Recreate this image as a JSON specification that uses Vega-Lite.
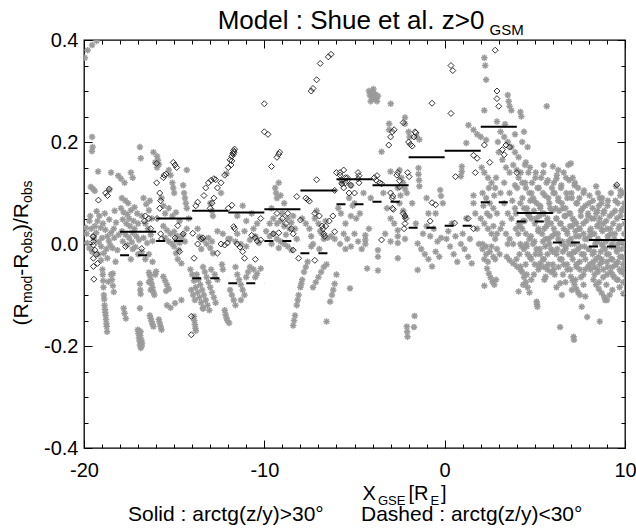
{
  "$schema": "https://vega.github.io/schema/vega-lite/v6.json",
  "width": 541,
  "height": 408,
  "autosize": "none",
  "padding": {"left": 84, "top": 40, "right": 11, "bottom": 81},
  "background": "white",
  "title": {"text": "Model : Shue et al. z>0", "fontSize": 26, "font": "Liberation Sans", "fontWeight": "normal", "color": "black", "anchor": "middle", "frame": "group", "dx": -3.5, "dy": 37, "offset": 4, "baseline": "alphabetic"},
  "config": {
    "view": {"stroke": "black", "strokeWidth": 1.3},
    "axis": {"grid": false, "domain": false, "tickColor": "black", "tickWidth": 1, "labelColor": "black", "labelFont": "Liberation Sans", "labelFontSize": 20, "titleFont": "Liberation Sans", "titleColor": "black", "titleFontWeight": "normal", "titleFontSize": 20, "labelFlush": false, "labelOverlap": false, "labelBound": false, "titleAlign": "left", "titleBaseline": "alphabetic"},
    "legend": {"labelFont": "Liberation Sans", "labelColor": "black"}
  },
  "datasets": {
    "ast": [
      {"x":-19.95,"y":0.365},{"x":-19.8,"y":0.38},{"x":-19.55,"y":0.39},{"x":-19.3,"y":0.398},
      {"x":-19.55,"y":0.21},{"x":-19.52,"y":0.19},{"x":-19.56,"y":0.182},{"x":-19.22,"y":0.142},{"x":-19.62,"y":0.112},{"x":-19.5,"y":0.108},{"x":-19.4,"y":0.104},{"x":-19.65,"y":0.055},{"x":-19.3,"y":0.064},{"x":-19.08,"y":0.032},
      {"x":-19.85,"y":0.02},{"x":-19.7,"y":-0.008},{"x":-19.32,"y":0.022},{"x":-19.18,"y":0.004},{"x":-19.0,"y":0.012},{"x":-18.82,"y":0.028},{"x":-18.9,"y":-0.018},{"x":-18.62,"y":0.006},{"x":-18.5,"y":0.022},{"x":-18.32,"y":0.012},{"x":-18.42,"y":-0.008},{"x":-18.22,"y":0.042},{"x":-18.08,"y":0.018},{"x":-19.9,"y":0.032},{"x":-19.82,"y":0.002},{"x":-19.6,"y":0.03},{"x":-19.45,"y":0.01},{"x":-19.05,"y":-0.005},{"x":-18.7,"y":0.015},{"x":-18.55,"y":-0.002},{"x":-18.95,"y":0.04},{"x":-19.25,"y":0.045},{"x":-18.35,"y":0.03},
      {"x":-19.7,"y":0.045},{"x":-19.4,"y":0.035},{"x":-19.15,"y":0.055},{"x":-18.85,"y":0.06},{"x":-18.6,"y":0.048},{"x":-18.3,"y":0.065},{"x":-19.55,"y":-0.015},{"x":-18.75,"y":-0.01},
      {"x":-18.6,"y":0.106},{"x":-18.5,"y":0.14},{"x":-18.1,"y":0.134},{"x":-17.95,"y":0.128},{"x":-17.75,"y":0.12},
      {"x":-18.98,"y":-0.05},{"x":-18.96,"y":-0.06},{"x":-18.94,"y":-0.072},{"x":-18.92,"y":-0.085},{"x":-18.9,"y":-0.1},{"x":-18.88,"y":-0.108},{"x":-18.86,"y":-0.12},{"x":-18.84,"y":-0.128},{"x":-18.82,"y":-0.134},{"x":-18.8,"y":-0.14},{"x":-18.78,"y":-0.148},{"x":-18.76,"y":-0.156},{"x":-18.74,"y":-0.162},{"x":-18.72,"y":-0.172},
      {"x":-18.5,"y":-0.06},{"x":-18.45,"y":-0.07},{"x":-18.4,"y":-0.082},{"x":-18.35,"y":-0.094},{"x":-18.65,"y":-0.074},{"x":-18.4,"y":-0.058},
      {"x":-17.8,"y":-0.126},{"x":-17.75,"y":-0.136},{"x":-17.68,"y":-0.146},
      {"x":-19.2,"y":-0.02},{"x":-19.05,"y":-0.032},{"x":-18.7,"y":-0.028},{"x":-18.25,"y":-0.035},{"x":-18.15,"y":-0.012},
      {"x":-17.9,"y":0.09},{"x":-17.7,"y":0.085},{"x":-17.55,"y":0.08},{"x":-17.95,"y":0.07},{"x":-17.8,"y":0.062},{"x":-17.6,"y":0.058},{"x":-17.4,"y":0.066},{"x":-17.2,"y":0.072},{"x":-17.05,"y":0.06},{"x":-17.85,"y":0.048},{"x":-17.65,"y":0.04},{"x":-17.45,"y":0.035},{"x":-17.25,"y":0.045},{"x":-17.0,"y":0.04},{"x":-17.9,"y":0.025},{"x":-17.7,"y":0.018},{"x":-17.5,"y":0.012},{"x":-17.3,"y":0.022},{"x":-17.1,"y":0.015},{"x":-17.85,"y":0.005},{"x":-17.6,"y":-0.002},{"x":-17.35,"y":0.004},{"x":-17.15,"y":-0.006},{"x":-16.95,"y":0.008},{"x":-17.5,"y":0.05},{"x":-17.2,"y":0.03},
      {"x":-16.9,"y":0.19},{"x":-16.85,"y":0.168},{"x":-17.4,"y":0.14},{"x":-17.3,"y":0.13},
      {"x":-16.7,"y":0.09},{"x":-16.55,"y":0.078},{"x":-16.4,"y":0.066},{"x":-16.25,"y":0.05},{"x":-16.6,"y":0.04},{"x":-16.45,"y":0.03},{"x":-16.3,"y":0.018},{"x":-16.7,"y":0.012},{"x":-16.5,"y":0.002},{"x":-16.2,"y":0.006},{"x":-16.8,"y":0.055},{"x":-16.35,"y":0.085},
      {"x":-16.15,"y":0.18},{"x":-15.95,"y":0.172},{"x":-15.9,"y":0.164},{"x":-15.85,"y":0.156},{"x":-15.95,"y":0.15},{"x":-16.05,"y":0.16},
      {"x":-17.3,"y":-0.01},{"x":-17.0,"y":-0.02},{"x":-16.8,"y":-0.015},{"x":-16.6,"y":-0.03},{"x":-16.4,"y":-0.02},{"x":-16.2,"y":-0.035},{"x":-17.4,"y":-0.03},
      {"x":-17.02,"y":-0.168},{"x":-16.98,"y":-0.176},{"x":-16.95,"y":-0.184},{"x":-16.92,"y":-0.19},{"x":-16.9,"y":-0.198},{"x":-16.85,"y":-0.204},{"x":-16.8,"y":-0.2},{"x":-16.88,"y":-0.18},{"x":-16.82,"y":-0.188},{"x":-16.78,"y":-0.194},{"x":-16.95,"y":-0.17},{"x":-16.86,"y":-0.172},
      {"x":-16.9,"y":-0.126},{"x":-16.9,"y":-0.078},{"x":-16.88,"y":-0.09},{"x":-16.86,"y":-0.098},
      {"x":-16.4,"y":-0.056},{"x":-16.35,"y":-0.062},{"x":-16.3,"y":-0.07},{"x":-16.25,"y":-0.078},{"x":-16.2,"y":-0.086},{"x":-16.15,"y":-0.094},{"x":-16.1,"y":-0.1},{"x":-16.05,"y":-0.06},{"x":-16.0,"y":-0.054},{"x":-16.3,"y":-0.09},{"x":-16.4,"y":-0.075},
      {"x":-16.35,"y":-0.14},{"x":-16.3,"y":-0.146},{"x":-16.25,"y":-0.152},{"x":-16.2,"y":-0.158},{"x":-15.85,"y":-0.148},{"x":-15.8,"y":-0.155},{"x":-15.75,"y":-0.162},{"x":-15.7,"y":-0.168},{"x":-16.15,"y":-0.162},
      {"x":-15.6,"y":-0.064},{"x":-15.5,"y":-0.072},{"x":-15.4,"y":-0.08},{"x":-15.3,"y":-0.088},{"x":-15.45,"y":-0.092},{"x":-15.4,"y":-0.12},{"x":-14.95,"y":-0.116},{"x":-14.6,"y":-0.11},{"x":-15.2,"y":-0.125},
      {"x":-15.0,"y":-0.005},{"x":-14.9,"y":-0.018},{"x":-14.8,"y":-0.03},{"x":-14.6,"y":-0.038},{"x":-14.75,"y":-0.012},
      {"x":-15.4,"y":0.027},{"x":-15.2,"y":0.02},{"x":-15.0,"y":0.024},{"x":-14.8,"y":0.015},{"x":-14.6,"y":0.01},{"x":-15.3,"y":0.005},{"x":-15.1,"y":0.0},{"x":-14.9,"y":0.008},{"x":-14.7,"y":0.002},{"x":-14.5,"y":0.018},{"x":-15.5,"y":0.012},{"x":-14.4,"y":0.005},{"x":-15.6,"y":0.035},{"x":-14.3,"y":0.03},
      {"x":-15.3,"y":0.145},{"x":-15.2,"y":0.135},{"x":-15.1,"y":0.12},{"x":-15.05,"y":0.11},{"x":-15.0,"y":0.1},{"x":-14.5,"y":0.115},{"x":-14.45,"y":0.1},{"x":-14.4,"y":0.09},{"x":-14.35,"y":0.08},{"x":-14.3,"y":0.07},{"x":-14.3,"y":0.145},{"x":-15.5,"y":0.06},{"x":-15.3,"y":0.07},{"x":-15.1,"y":0.055},{"x":-14.9,"y":0.062},{"x":-14.7,"y":0.045},{"x":-14.2,"y":0.05},{"x":-15.7,"y":0.09},{"x":-15.6,"y":0.075},
      {"x":-13.7,"y":0.03},
      {"x":-14.1,"y":-0.05},{"x":-14.0,"y":-0.06},{"x":-13.9,"y":-0.072},{"x":-13.8,"y":-0.085},{"x":-13.7,"y":-0.095},{"x":-13.6,"y":-0.105},{"x":-13.5,"y":-0.115},{"x":-13.4,"y":-0.125},{"x":-14.05,"y":-0.09},{"x":-13.95,"y":-0.1},{"x":-13.85,"y":-0.11},{"x":-13.75,"y":-0.06},{"x":-13.65,"y":-0.07},{"x":-13.55,"y":-0.08},{"x":-13.45,"y":-0.09},{"x":-13.35,"y":-0.1},{"x":-13.25,"y":-0.11},{"x":-13.15,"y":-0.12},{"x":-13.05,"y":-0.13},{"x":-13.3,"y":-0.055},{"x":-13.2,"y":-0.065},{"x":-13.1,"y":-0.075},{"x":-13.0,"y":-0.085},{"x":-12.9,"y":-0.095},{"x":-12.8,"y":-0.105},{"x":-12.7,"y":-0.115},{"x":-12.95,"y":-0.05},{"x":-12.75,"y":-0.06},{"x":-12.6,"y":-0.07},{"x":-13.4,"y":-0.045},
      {"x":-13.9,"y":-0.142},{"x":-13.88,"y":-0.15},{"x":-13.85,"y":-0.158},{"x":-13.82,"y":-0.165},{"x":-13.8,"y":-0.17},
      {"x":-13.6,"y":0.014},{"x":-13.4,"y":0.008},{"x":-13.2,"y":0.0},{"x":-13.0,"y":-0.008},{"x":-12.85,"y":-0.018},{"x":-13.5,"y":-0.01},{"x":-13.1,"y":0.012},{"x":-12.9,"y":0.005},
      {"x":-13.4,"y":-0.127},
      {"x":-12.1,"y":0.138},{"x":-12.4,"y":0.1},{"x":-13.0,"y":0.08},{"x":-12.9,"y":0.065},{"x":-12.85,"y":0.055},
      {"x":-12.3,"y":0.02},{"x":-12.0,"y":0.01},{"x":-12.6,"y":0.025},
      {"x":-12.35,"y":-0.04},{"x":-12.3,"y":-0.05},{"x":-11.9,"y":-0.09},{"x":-11.8,"y":-0.1},{"x":-11.7,"y":-0.11},{"x":-11.6,"y":-0.12},{"x":-12.2,"y":-0.13},{"x":-12.15,"y":-0.138},{"x":-12.1,"y":-0.145},{"x":-12.05,"y":-0.15},{"x":-11.95,"y":-0.155},{"x":-11.5,"y":-0.06},{"x":-11.4,"y":-0.07},{"x":-11.3,"y":-0.08},{"x":-11.2,"y":-0.09},{"x":-11.1,"y":-0.1},{"x":-11.0,"y":-0.065},{"x":-10.9,"y":-0.055},{"x":-10.8,"y":-0.045},{"x":-10.6,"y":-0.05},{"x":-10.4,"y":-0.058},{"x":-10.2,"y":-0.048},{"x":-10.5,"y":-0.065},{"x":-11.6,"y":-0.045},{"x":-11.3,"y":-0.11},
      {"x":-11.9,"y":0.01},{"x":-11.6,"y":0.005},{"x":-11.3,"y":0.0},{"x":-11.0,"y":-0.005},{"x":-10.8,"y":0.008},{"x":-10.5,"y":0.015},{"x":-10.3,"y":0.002},{"x":-11.5,"y":0.02},{"x":-11.1,"y":0.025},{"x":-10.6,"y":0.03},
      {"x":-11.5,"y":0.055},{"x":-11.0,"y":0.045},{"x":-10.7,"y":0.06},{"x":-10.4,"y":0.04},{"x":-11.2,"y":0.075},
      {"x":-9.9,"y":0.025},{"x":-9.7,"y":0.015},{"x":-9.5,"y":0.02},{"x":-9.3,"y":0.01},{"x":-9.1,"y":0.005},{"x":-8.9,"y":0.0},{"x":-8.7,"y":-0.005},{"x":-8.5,"y":-0.012},{"x":-9.6,"y":0.0},{"x":-9.2,"y":-0.008},{"x":-8.8,"y":0.018},{"x":-8.6,"y":0.03},
      {"x":-9.5,"y":0.05},{"x":-9.3,"y":0.04},{"x":-9.1,"y":0.045},{"x":-8.9,"y":0.035},{"x":-8.7,"y":0.05},{"x":-8.5,"y":0.042},{"x":-8.3,"y":0.03},{"x":-8.2,"y":0.01},{"x":-9.7,"y":0.04},{"x":-9.0,"y":0.06},{"x":-8.4,"y":0.055},
      {"x":-9.4,"y":0.11},{"x":-9.3,"y":0.09},{"x":-9.35,"y":0.1},{"x":-9.1,"y":0.095},{"x":-9.2,"y":0.12},{"x":-8.9,"y":0.08},{"x":-9.6,"y":0.07},
      {"x":-8.4,"y":-0.16},{"x":-8.3,"y":-0.14},{"x":-8.2,"y":-0.12},{"x":-8.1,"y":-0.1},{"x":-8.0,"y":-0.085},{"x":-7.9,"y":-0.07},{"x":-7.8,"y":-0.055},{"x":-7.7,"y":-0.045},{"x":-7.6,"y":-0.035},{"x":-8.35,"y":-0.15},{"x":-8.15,"y":-0.11},{"x":-7.95,"y":-0.078},
      {"x":-7.4,"y":-0.005},
      {"x":-7.9,"y":0.05},{"x":-7.7,"y":0.04},{"x":-7.5,"y":0.03},{"x":-7.4,"y":0.015},{"x":-7.2,"y":0.05},{"x":-7.0,"y":0.04},{"x":-6.9,"y":0.025},{"x":-6.7,"y":0.01},{"x":-6.8,"y":0.02},{"x":-6.5,"y":0.012},{"x":-6.3,"y":0.015},{"x":-6.1,"y":0.01},{"x":-7.1,"y":0.065},{"x":-6.6,"y":0.045},{"x":-7.3,"y":0.0},{"x":-6.95,"y":-0.01},
      {"x":-7.3,"y":-0.085},{"x":-7.15,"y":-0.075},{"x":-7.0,"y":-0.065},{"x":-6.85,"y":-0.055},{"x":-6.7,"y":-0.045},{"x":-6.55,"y":-0.04},
      {"x":-6.55,"y":-0.152},
      {"x":-6.35,"y":-0.113},{"x":-6.25,"y":-0.1},{"x":-6.18,"y":-0.09},{"x":-6.1,"y":-0.078},{"x":-6.0,"y":-0.06},
      {"x":-5.25,"y":-0.087},
      {"x":-5.9,"y":0.07},{"x":-5.75,"y":0.06},{"x":-5.3,"y":0.09},{"x":-5.1,"y":0.075},{"x":-5.0,"y":0.08},{"x":-5.2,"y":0.055},{"x":-4.9,"y":0.05},{"x":-4.7,"y":0.06},{"x":-5.5,"y":0.04},{"x":-5.6,"y":0.02},{"x":-5.4,"y":0.01},{"x":-5.0,"y":0.02},{"x":-4.8,"y":0.005},{"x":-4.4,"y":0.017},{"x":-4.4,"y":0.008},{"x":-4.4,"y":0.0},{"x":-4.2,"y":0.03},{"x":-5.8,"y":0.0},{"x":-5.5,"y":-0.01},{"x":-5.2,"y":-0.005},{"x":-4.6,"y":-0.01},
      {"x":-3.7,"y":-0.012},{"x":-3.7,"y":-0.025},{"x":-4.3,"y":-0.048},{"x":-3.7,"y":-0.052},
      {"x":-5.7,"y":0.12},{"x":-5.2,"y":0.115},{"x":-4.5,"y":0.1},{"x":-4.1,"y":0.09},
      {"x":-4.2,"y":0.3},{"x":-4.15,"y":0.292},{"x":-4.1,"y":0.296},{"x":-4.05,"y":0.288},{"x":-4.0,"y":0.3},{"x":-3.95,"y":0.29},{"x":-3.9,"y":0.284},{"x":-3.85,"y":0.294},{"x":-3.8,"y":0.286},{"x":-3.75,"y":0.28},{"x":-3.7,"y":0.29},{"x":-4.1,"y":0.28},{"x":-3.95,"y":0.304},
      {"x":-2.99,"y":0.275},{"x":-3.08,"y":0.236},{"x":-3.08,"y":0.224},{"x":-2.2,"y":0.248},{"x":-2.2,"y":0.236},{"x":-2.0,"y":0.22},{"x":-1.95,"y":0.21},{"x":-1.55,"y":0.21},{"x":-1.4,"y":0.205},
      {"x":-3.5,"y":0.181},{"x":-3.0,"y":0.142},{"x":-2.5,"y":0.145},{"x":-2.4,"y":0.13},{"x":-2.3,"y":0.12},{"x":-2.2,"y":0.108},{"x":-2.1,"y":0.1},{"x":-2.45,"y":0.095},
      {"x":-3.4,"y":0.1},{"x":-2.6,"y":0.11},{"x":-2.5,"y":0.08},{"x":-2.3,"y":0.065},{"x":-2.2,"y":0.053},{"x":-3.2,"y":0.07},{"x":-3.0,"y":0.05},{"x":-2.8,"y":0.04},
      {"x":-2.6,"y":0.027},{"x":-2.6,"y":0.015},{"x":-2.6,"y":0.002},{"x":-2.6,"y":-0.028},{"x":-3.3,"y":0.02},{"x":-3.0,"y":0.005},{"x":-2.2,"y":0.01},
      {"x":-2.1,"y":-0.162},{"x":-2.08,"y":-0.172},{"x":-2.06,"y":-0.182},{"x":-1.67,"y":-0.141},{"x":-1.7,"y":-0.163},
      {"x":-1.45,"y":0.149},{"x":-1.45,"y":0.137},{"x":-1.42,"y":0.125},{"x":-1.4,"y":0.113},
      {"x":-0.25,"y":0.106},{"x":-0.2,"y":0.094},{"x":-0.1,"y":0.08},{"x":-0.5,"y":0.06},
      {"x":-1.5,"y":-0.051},{"x":-1.5,"y":0.001},{"x":-1.3,"y":-0.01},{"x":-1.1,"y":-0.02},{"x":-0.9,"y":-0.03},{"x":-0.7,"y":-0.044},{"x":-0.5,"y":-0.015},{"x":-0.3,"y":-0.025},{"x":-1.2,"y":0.02},{"x":-0.8,"y":0.015},{"x":-0.4,"y":0.005},{"x":-1.0,"y":0.035},{"x":-0.6,"y":0.03},{"x":-0.2,"y":0.012},{"x":-1.6,"y":0.04},{"x":-0.9,"y":0.06},
      {"x":-1.8,"y":0.08},{"x":-1.0,"y":0.09},
      {"x":0.95,"y":0.152},{"x":0.95,"y":0.142},{"x":0.9,"y":0.133},{"x":1.2,"y":0.198},{"x":1.32,"y":0.233},
      {"x":0.1,"y":0.01},{"x":0.3,"y":-0.005},{"x":0.5,"y":-0.02},{"x":0.7,"y":-0.035},{"x":0.9,"y":0.0},{"x":1.1,"y":-0.01},{"x":1.3,"y":-0.025},{"x":1.5,"y":-0.038},{"x":0.2,"y":0.025},{"x":0.6,"y":0.015},{"x":1.0,"y":0.02},{"x":1.4,"y":0.01},{"x":1.6,"y":0.095},{"x":1.6,"y":0.08},{"x":1.7,"y":0.06},{"x":1.2,"y":0.05},{"x":0.4,"y":0.04},{"x":1.8,"y":0.03},{"x":1.9,"y":0.0},
      {"x":1.6,"y":0.224},{"x":1.8,"y":0.215},{"x":2.0,"y":0.21},{"x":2.3,"y":0.204},
      {"x":2.2,"y":0.365},{"x":2.25,"y":0.35},{"x":2.3,"y":0.322},{"x":2.2,"y":0.262},
      {"x":3.5,"y":0.292},{"x":3.55,"y":0.28},{"x":3.6,"y":0.27},{"x":3.7,"y":0.262},{"x":4.2,"y":0.259},{"x":4.25,"y":0.25},
      {"x":2.9,"y":0.24},{"x":3.1,"y":0.22},{"x":3.3,"y":0.21},{"x":3.5,"y":0.2},{"x":3.7,"y":0.19},{"x":3.9,"y":0.18},{"x":4.1,"y":0.17},{"x":4.3,"y":0.2},{"x":4.5,"y":0.16},{"x":3.0,"y":0.18},{"x":3.2,"y":0.165},{"x":3.4,"y":0.15},{"x":3.6,"y":0.14},{"x":3.8,"y":0.155},{"x":4.0,"y":0.145},{"x":4.4,"y":0.22},{"x":2.95,"y":0.2},{"x":3.35,"y":0.235},{"x":4.6,"y":0.19},{"x":3.9,"y":0.215},
      {"x":2.05,"y":0.15},{"x":2.2,"y":0.14},{"x":2.4,"y":0.13},{"x":2.6,"y":0.12},{"x":2.8,"y":0.11},{"x":2.1,"y":0.1},{"x":2.3,"y":0.09},{"x":2.5,"y":0.08},{"x":2.7,"y":0.07},{"x":2.9,"y":0.06},{"x":2.0,"y":0.05},{"x":2.2,"y":0.04},{"x":2.4,"y":0.03},{"x":2.6,"y":0.02},{"x":2.8,"y":0.01},{"x":2.1,"y":0.0},{"x":2.3,"y":-0.005},{"x":2.5,"y":0.055},{"x":2.7,"y":0.035},{"x":2.9,"y":0.02},{"x":2.15,"y":0.075},{"x":2.45,"y":0.11},{"x":2.75,"y":0.095},{"x":2.35,"y":0.06},{"x":2.85,"y":0.13},
      {"x":2.1,"y":-0.01},{"x":2.3,"y":-0.02},{"x":2.5,"y":-0.015},{"x":2.7,"y":-0.025},{"x":2.9,"y":-0.01},{"x":3.05,"y":-0.02},{"x":2.2,"y":-0.03},{"x":2.6,"y":-0.005},{"x":2.4,"y":-0.035},{"x":2.8,"y":-0.03},
      {"x":2.35,"y":-0.048},{"x":2.45,"y":-0.058},{"x":2.55,"y":-0.066},{"x":2.65,"y":-0.074},{"x":2.75,"y":-0.08},{"x":2.85,"y":-0.07},{"x":2.2,"y":-0.082},
      {"x":3.44,"y":-0.025},{"x":3.6,"y":-0.032},{"x":3.8,"y":-0.038},{"x":4.0,"y":-0.044},{"x":4.1,"y":-0.093},
      {"x":3.1,"y":0.1},{"x":3.3,"y":0.08},{"x":3.5,"y":0.06},{"x":3.7,"y":0.05},{"x":3.9,"y":0.07},{"x":3.2,"y":0.04},{"x":3.4,"y":0.02},{"x":3.6,"y":0.01},{"x":3.8,"y":0.0},{"x":3.3,"y":0.12},{"x":3.6,"y":0.1},{"x":3.9,"y":0.115},{"x":3.1,"y":0.03},{"x":3.5,"y":0.0},{"x":3.75,"y":0.085},{"x":3.95,"y":0.03},
      {"x":4.2,"y":-0.044},{"x":4.3,"y":-0.055},{"x":4.4,"y":-0.065},{"x":4.5,"y":-0.075},{"x":4.6,"y":-0.085},{"x":4.7,"y":-0.095},{"x":4.35,"y":-0.08},{"x":4.55,"y":-0.06},
      {"x":5.1,"y":-0.113},{"x":5.12,"y":-0.118},{"x":5.14,"y":-0.123},
      {"x":5.3,"y":-0.038},{"x":5.5,"y":-0.045},{"x":5.7,"y":-0.05},{"x":5.9,"y":-0.055},{"x":6.1,"y":-0.06},{"x":5.6,"y":-0.064},
      {"x":5.66,"y":0.27},
      {"x":4.1,"y":0.13},{"x":4.3,"y":0.12},{"x":4.5,"y":0.11},{"x":4.7,"y":0.1},{"x":4.9,"y":0.09},{"x":5.1,"y":0.08},{"x":5.3,"y":0.07},{"x":5.5,"y":0.06},{"x":5.7,"y":0.05},{"x":5.9,"y":0.04},{"x":4.2,"y":0.08},{"x":4.4,"y":0.07},{"x":4.6,"y":0.06},{"x":4.8,"y":0.05},{"x":5.0,"y":0.04},{"x":5.2,"y":0.03},{"x":5.4,"y":0.02},{"x":5.6,"y":0.01},{"x":5.8,"y":0.0},{"x":4.1,"y":0.04},{"x":4.3,"y":0.03},{"x":4.5,"y":0.02},{"x":4.7,"y":0.01},{"x":4.9,"y":0.0},{"x":5.1,"y":-0.01},{"x":5.3,"y":-0.02},{"x":5.5,"y":-0.03},{"x":5.7,"y":-0.02},{"x":5.9,"y":-0.01},{"x":4.2,"y":0.0},{"x":4.4,"y":-0.01},{"x":4.6,"y":-0.02},{"x":4.8,"y":-0.03},{"x":5.0,"y":-0.04},{"x":5.2,"y":-0.05},{"x":4.15,"y":-0.02},{"x":4.85,"y":0.12},{"x":5.15,"y":0.11},{"x":5.45,"y":0.1},{"x":5.75,"y":0.09},{"x":5.05,"y":0.14},{"x":5.35,"y":0.13},{"x":5.65,"y":0.12},{"x":5.95,"y":0.11},{"x":4.65,"y":0.14},{"x":4.45,"y":0.155},{"x":5.5,"y":0.155},{"x":5.85,"y":0.07},{"x":4.95,"y":0.065},{"x":5.25,"y":0.055},{"x":4.35,"y":0.045},{"x":5.65,"y":0.035},{"x":4.75,"y":0.085},{"x":5.45,"y":0.005},{"x":4.55,"y":-0.005},{"x":5.95,"y":0.015},
      {"x":6.0,"y":0.152},{"x":6.3,"y":0.145},{"x":6.6,"y":0.14},{"x":6.85,"y":0.155},{"x":7.1,"y":0.13},{"x":6.2,"y":0.128},{"x":7.0,"y":0.158},
      {"x":6.4,"y":-0.077},{"x":6.4,"y":-0.163},{"x":6.5,"y":-0.1},
      {"x":7.0,"y":-0.064},{"x":7.1,"y":-0.072},{"x":7.2,"y":-0.08},{"x":7.3,"y":-0.088},{"x":7.4,"y":-0.095},{"x":7.5,"y":-0.1},{"x":7.05,"y":-0.09},{"x":7.25,"y":-0.07},
      {"x":7.15,"y":-0.182},{"x":7.17,"y":-0.188},{"x":7.6,"y":-0.123},{"x":7.9,"y":-0.143},{"x":7.8,"y":-0.103},
      {"x":6.1,"y":0.1},{"x":6.3,"y":0.09},{"x":6.5,"y":0.08},{"x":6.7,"y":0.07},{"x":6.9,"y":0.06},{"x":7.1,"y":0.05},{"x":7.3,"y":0.04},{"x":7.5,"y":0.03},{"x":7.7,"y":0.02},{"x":7.9,"y":0.01},{"x":6.2,"y":0.05},{"x":6.4,"y":0.04},{"x":6.6,"y":0.03},{"x":6.8,"y":0.02},{"x":7.0,"y":0.01},{"x":7.2,"y":0.0},{"x":7.4,"y":-0.01},{"x":7.6,"y":-0.02},{"x":7.8,"y":-0.03},{"x":6.1,"y":0.02},{"x":6.3,"y":0.01},{"x":6.5,"y":0.0},{"x":6.7,"y":-0.01},{"x":6.9,"y":-0.02},{"x":7.1,"y":-0.03},{"x":7.3,"y":-0.04},{"x":7.5,"y":-0.05},{"x":7.7,"y":-0.06},{"x":6.2,"y":-0.02},{"x":6.4,"y":-0.03},{"x":6.6,"y":-0.04},{"x":6.8,"y":-0.05},{"x":6.0,"y":-0.04},{"x":6.15,"y":0.07},{"x":6.45,"y":0.11},{"x":6.75,"y":0.1},{"x":7.05,"y":0.09},{"x":7.35,"y":0.08},{"x":7.65,"y":0.07},{"x":7.95,"y":0.06},{"x":6.35,"y":0.065},{"x":6.65,"y":0.055},{"x":6.95,"y":0.035},{"x":7.25,"y":0.025},{"x":7.55,"y":0.055},{"x":7.85,"y":0.045},{"x":6.55,"y":-0.015},{"x":6.85,"y":0.005},{"x":7.15,"y":-0.015},{"x":7.45,"y":0.015},{"x":7.75,"y":-0.005},{"x":7.95,"y":-0.045},{"x":6.05,"y":0.12},{"x":7.4,"y":0.11},{"x":7.7,"y":0.1},{"x":7.2,"y":0.115},{"x":6.9,"y":0.125},
      {"x":8.4,"y":0.113},{"x":8.5,"y":0.1},{"x":8.6,"y":0.09},{"x":8.7,"y":0.08},{"x":9.5,"y":0.113},{"x":9.75,"y":0.105},{"x":9.95,"y":0.1},
      {"x":8.25,"y":-0.07},{"x":8.4,"y":-0.08},{"x":8.55,"y":-0.088},{"x":8.7,"y":-0.096},{"x":8.85,"y":-0.104},{"x":9.0,"y":-0.11},{"x":9.15,"y":-0.1},{"x":9.3,"y":-0.09},{"x":8.9,"y":-0.11},
      {"x":8.6,"y":-0.152},{"x":9.9,"y":-0.051},{"x":9.9,"y":-0.075},{"x":9.9,"y":-0.097},
      {"x":8.0,"y":0.08},{"x":8.2,"y":0.07},{"x":8.4,"y":0.06},{"x":8.6,"y":0.05},{"x":8.8,"y":0.04},{"x":9.0,"y":0.03},{"x":9.2,"y":0.02},{"x":9.4,"y":0.01},{"x":9.6,"y":0.0},{"x":9.8,"y":-0.01},{"x":8.1,"y":0.03},{"x":8.3,"y":0.02},{"x":8.5,"y":0.01},{"x":8.7,"y":0.0},{"x":8.9,"y":-0.01},{"x":9.1,"y":-0.02},{"x":9.3,"y":-0.03},{"x":9.5,"y":-0.04},{"x":9.7,"y":-0.05},{"x":8.0,"y":-0.01},{"x":8.2,"y":-0.02},{"x":8.4,"y":-0.03},{"x":8.6,"y":-0.04},{"x":8.8,"y":-0.05},{"x":9.0,"y":-0.06},{"x":9.2,"y":-0.055},{"x":9.4,"y":-0.065},{"x":9.6,"y":-0.07},{"x":8.1,"y":-0.05},{"x":8.3,"y":-0.045},{"x":8.5,"y":-0.055},{"x":8.15,"y":0.05},{"x":8.45,"y":0.035},{"x":8.75,"y":0.025},{"x":9.05,"y":0.015},{"x":9.35,"y":0.04},{"x":9.65,"y":0.03},{"x":9.95,"y":0.02},{"x":8.05,"y":0.015},{"x":8.35,"y":0.0},{"x":8.65,"y":-0.015},{"x":8.95,"y":0.005},{"x":9.25,"y":-0.005},{"x":9.55,"y":-0.015},{"x":9.85,"y":-0.025},{"x":9.15,"y":0.055},{"x":9.45,"y":0.065},{"x":9.75,"y":0.055},{"x":8.85,"y":0.065},{"x":8.55,"y":0.075},{"x":9.05,"y":0.085},{"x":9.6,"y":0.08},{"x":9.9,"y":0.07},{"x":9.0,"y":-0.035},{"x":9.3,"y":-0.045},{"x":9.6,"y":-0.035},{"x":9.9,"y":-0.04},{"x":8.7,"y":-0.03},
      {"x":4.02,"y":0.11},{"x":3.95,"y":0.06},{"x":4.08,"y":0.02},{"x":3.98,"y":-0.03},
      {"x":4.22,"y":0.14},{"x":4.31,"y":0.09},{"x":4.18,"y":0.035},{"x":4.27,"y":-0.005},{"x":4.2,"y":-0.05},
      {"x":4.47,"y":0.12},{"x":4.56,"y":0.07},{"x":4.44,"y":0.045},{"x":4.53,"y":0.0},{"x":4.49,"y":-0.04},
      {"x":4.73,"y":0.15},{"x":4.81,"y":0.1},{"x":4.69,"y":0.055},{"x":4.78,"y":0.015},{"x":4.72,"y":-0.025},{"x":4.8,"y":-0.07},
      {"x":5.03,"y":0.13},{"x":4.96,"y":0.085},{"x":5.07,"y":0.05},{"x":4.98,"y":0.005},{"x":5.04,"y":-0.02},{"x":4.95,"y":-0.06},
      {"x":5.22,"y":0.11},{"x":5.3,"y":0.075},{"x":5.19,"y":0.025},{"x":5.28,"y":-0.01},{"x":5.24,"y":-0.045},
      {"x":5.47,"y":0.14},{"x":5.55,"y":0.095},{"x":5.44,"y":0.06},{"x":5.52,"y":0.03},{"x":5.58,"y":-0.005},{"x":5.46,"y":-0.03},{"x":5.53,"y":-0.07},
      {"x":5.72,"y":0.125},{"x":5.8,"y":0.08},{"x":5.69,"y":0.045},{"x":5.77,"y":0.01},{"x":5.74,"y":-0.04},
      {"x":6.03,"y":0.1},{"x":5.96,"y":0.065},{"x":6.06,"y":0.03},{"x":5.99,"y":-0.015},{"x":6.04,"y":-0.05},
      {"x":6.22,"y":0.135},{"x":6.3,"y":0.085},{"x":6.19,"y":0.05},{"x":6.28,"y":0.02},{"x":6.24,"y":-0.01},{"x":6.31,"y":-0.045},{"x":6.2,"y":-0.085},
      {"x":6.47,"y":0.115},{"x":6.55,"y":0.07},{"x":6.44,"y":0.04},{"x":6.53,"y":0.005},{"x":6.49,"y":-0.03},{"x":6.56,"y":-0.06},
      {"x":6.73,"y":0.13},{"x":6.8,"y":0.09},{"x":6.69,"y":0.055},{"x":6.78,"y":0.025},{"x":6.72,"y":-0.005},{"x":6.79,"y":-0.04},{"x":6.7,"y":-0.075},
      {"x":7.03,"y":0.1},{"x":6.96,"y":0.06},{"x":7.06,"y":0.035},{"x":6.99,"y":0.0},{"x":7.04,"y":-0.02},{"x":6.97,"y":-0.05},
      {"x":7.22,"y":0.12},{"x":7.3,"y":0.08},{"x":7.19,"y":0.045},{"x":7.28,"y":0.015},{"x":7.24,"y":-0.015},{"x":7.31,"y":-0.045},
      {"x":7.47,"y":0.09},{"x":7.55,"y":0.065},{"x":7.44,"y":0.03},{"x":7.53,"y":-0.005},{"x":7.49,"y":-0.035},{"x":7.56,"y":-0.065},
      {"x":7.73,"y":0.105},{"x":7.8,"y":0.075},{"x":7.69,"y":0.04},{"x":7.78,"y":0.01},{"x":7.72,"y":-0.02},{"x":7.79,"y":-0.05},{"x":7.7,"y":-0.08},
      {"x":8.03,"y":0.095},{"x":7.96,"y":0.055},{"x":8.06,"y":0.025},{"x":7.99,"y":-0.01},{"x":8.04,"y":-0.04},
      {"x":8.22,"y":0.085},{"x":8.3,"y":0.05},{"x":8.19,"y":0.02},{"x":8.28,"y":-0.015},{"x":8.24,"y":-0.035},{"x":8.31,"y":-0.06},
      {"x":8.47,"y":0.065},{"x":8.55,"y":0.04},{"x":8.44,"y":0.005},{"x":8.53,"y":-0.025},{"x":8.49,"y":-0.05},{"x":8.56,"y":-0.075},
      {"x":8.73,"y":0.09},{"x":8.8,"y":0.06},{"x":8.69,"y":0.03},{"x":8.78,"y":-0.005},{"x":8.72,"y":-0.035},{"x":8.79,"y":-0.065},
      {"x":9.03,"y":0.075},{"x":8.96,"y":0.045},{"x":9.06,"y":0.015},{"x":8.99,"y":-0.02},{"x":9.04,"y":-0.045},{"x":8.97,"y":-0.08},
      {"x":9.22,"y":0.1},{"x":9.3,"y":0.06},{"x":9.19,"y":0.03},{"x":9.28,"y":0.0},{"x":9.24,"y":-0.03},{"x":9.31,"y":-0.06},
      {"x":9.47,"y":0.085},{"x":9.55,"y":0.05},{"x":9.44,"y":0.02},{"x":9.53,"y":-0.01},{"x":9.49,"y":-0.04},{"x":9.56,"y":-0.07},
      {"x":9.73,"y":0.095},{"x":9.8,"y":0.065},{"x":9.69,"y":0.035},{"x":9.78,"y":0.005},{"x":9.72,"y":-0.025},{"x":9.79,"y":-0.055},{"x":9.7,"y":-0.085},
      {"x":9.96,"y":0.08},{"x":9.98,"y":0.04},{"x":9.95,"y":0.0},{"x":9.97,"y":-0.03},{"x":9.99,"y":-0.06}
    ],
    "dia": [
      {"x":-19.48,"y":0.014},{"x":-19.48,"y":0.005},{"x":-19.2,"y":0.086},{"x":-18.8,"y":0.1},{"x":-18.7,"y":0.095},{"x":-18.6,"y":0.108},
      {"x":-19.5,"y":0.015},{"x":-19.48,"y":-0.002},{"x":-19.4,"y":-0.012},{"x":-19.3,"y":-0.02},{"x":-19.48,"y":-0.028},{"x":-19.25,"y":-0.038},{"x":-19.48,"y":-0.044},{"x":-19.45,"y":-0.069},
      {"x":-16.6,"y":0.055},{"x":-16.65,"y":0.045},
      {"x":-15.97,"y":0.158},{"x":-15.97,"y":0.12},{"x":-15.8,"y":0.1},{"x":-15.75,"y":0.085},{"x":-15.6,"y":0.13},{"x":-15.45,"y":0.137},{"x":-15.55,"y":0.135},{"x":-15.8,"y":0.07},{"x":-15.95,"y":0.05},{"x":-16.3,"y":0.03},{"x":-16.4,"y":0.05},
      {"x":-15.05,"y":0.16},{"x":-14.86,"y":0.15},{"x":-14.95,"y":0.155},
      {"x":-14.8,"y":0.036},{"x":-14.5,"y":0.02},{"x":-13.97,"y":0.021},
      {"x":-13.8,"y":0.075},{"x":-13.7,"y":0.082},{"x":-13.35,"y":0.095},{"x":-13.25,"y":0.11},{"x":-13.1,"y":0.12},{"x":-12.95,"y":0.125},{"x":-12.8,"y":0.128},{"x":-12.7,"y":0.126},{"x":-13.0,"y":0.07},{"x":-12.9,"y":0.08},{"x":-12.8,"y":0.09},{"x":-12.6,"y":0.11},{"x":-12.4,"y":0.12},{"x":-12.2,"y":0.135},{"x":-12.0,"y":0.15},{"x":-11.9,"y":0.165},{"x":-11.8,"y":0.172},{"x":-11.75,"y":0.178},{"x":-11.7,"y":0.183},{"x":-11.72,"y":0.176},{"x":-11.68,"y":0.18},{"x":-11.65,"y":0.186},{"x":-11.85,"y":0.155},{"x":-11.8,"y":0.163},
      {"x":-11.8,"y":0.076},{"x":-12.0,"y":0.07},{"x":-11.7,"y":0.034},{"x":-11.65,"y":0.03},
      {"x":-10.0,"y":0.275},{"x":-10.0,"y":0.22},{"x":-9.8,"y":0.215},{"x":-9.6,"y":0.152},{"x":-9.3,"y":0.17},{"x":-9.2,"y":0.176},{"x":-9.15,"y":0.18},
      {"x":-10.2,"y":0.05},{"x":-9.3,"y":0.06},{"x":-8.7,"y":0.06},{"x":-8.2,"y":0.093},
      {"x":-9.0,"y":0.05},{"x":-8.8,"y":0.04},{"x":-8.5,"y":0.03},{"x":-8.4,"y":0.02},{"x":-8.0,"y":0.047},
      {"x":-7.7,"y":0.09},{"x":-7.6,"y":0.087},{"x":-7.5,"y":0.084},
      {"x":-7.4,"y":0.3},{"x":-7.3,"y":0.305},{"x":-7.1,"y":0.322},{"x":-6.9,"y":0.354},{"x":-6.45,"y":0.367},{"x":-6.3,"y":0.372},
      {"x":-7.1,"y":0.126},
      {"x":-7.2,"y":0.06},{"x":-6.95,"y":0.055},{"x":-6.8,"y":0.035},{"x":-6.75,"y":0.03},{"x":-6.6,"y":0.035},{"x":-6.4,"y":0.045},{"x":-6.2,"y":0.055},
      {"x":-6.0,"y":0.14},{"x":-5.8,"y":0.135},{"x":-5.7,"y":0.125},{"x":-5.5,"y":0.12},{"x":-5.4,"y":0.13},{"x":-5.2,"y":0.115},{"x":-5.0,"y":0.1},{"x":-6.1,"y":0.105},{"x":-5.6,"y":0.11},{"x":-5.3,"y":0.1},
      {"x":-17.7,"y":-0.005},{"x":-16.8,"y":-0.009},{"x":-15.75,"y":0.02},{"x":-15.7,"y":0.01},{"x":-14.95,"y":0.012},{"x":-14.7,"y":-0.015},{"x":-14.05,"y":-0.142},{"x":-14.05,"y":-0.178},{"x":-13.9,"y":-0.028},{"x":-13.7,"y":0.0},{"x":-13.5,"y":0.01},{"x":-13.4,"y":0.012},{"x":-12.6,"y":-0.018},{"x":-12.4,"y":0.0},{"x":-12.2,"y":-0.002},{"x":-12.05,"y":0.002},{"x":-11.5,"y":0.0},{"x":-11.35,"y":-0.006},{"x":-11.2,"y":-0.015},{"x":-11.1,"y":-0.028},{"x":-10.5,"y":-0.03},{"x":-10.7,"y":0.017},{"x":-10.5,"y":0.012},{"x":-10.4,"y":0.006},{"x":-10.2,"y":0.008},{"x":-9.5,"y":0.02},{"x":-9.2,"y":0.022},{"x":-8.4,"y":-0.012},{"x":-8.1,"y":-0.028},{"x":-7.2,"y":-0.032},{"x":-6.7,"y":0.02},{"x":-6.65,"y":0.015},{"x":-6.1,"y":0.024},
      {"x":-5.8,"y":0.14},{"x":-5.6,"y":0.145},{"x":-5.5,"y":0.13},{"x":-5.7,"y":0.118},{"x":-5.4,"y":0.124},{"x":-4.8,"y":0.14},{"x":-4.75,"y":0.134},{"x":-4.8,"y":0.128},{"x":-4.75,"y":0.12},{"x":-3.9,"y":0.13},{"x":-3.8,"y":0.125},{"x":-3.75,"y":0.134},{"x":-3.6,"y":0.12},{"x":-3.5,"y":0.118},{"x":-3.0,"y":0.1},{"x":-2.9,"y":0.09},{"x":-2.88,"y":0.094},{"x":-2.9,"y":0.07},{"x":-2.85,"y":0.068},{"x":-2.6,"y":0.14},{"x":-2.5,"y":0.124},{"x":-2.5,"y":0.112},{"x":-2.65,"y":0.135},{"x":-2.3,"y":0.06},{"x":-2.2,"y":0.055},{"x":-2.15,"y":0.05},{"x":-2.2,"y":0.04},{"x":-2.25,"y":0.03},{"x":-2.0,"y":0.2},{"x":-1.9,"y":0.195},{"x":-1.8,"y":0.192},{"x":-1.65,"y":0.22},{"x":-1.6,"y":0.218},{"x":-1.7,"y":0.21},{"x":-2.3,"y":0.238},{"x":-3.0,"y":0.21},{"x":-2.9,"y":0.22},{"x":-2.8,"y":0.224},{"x":-3.1,"y":0.194},{"x":-2.05,"y":0.14},{"x":-1.97,"y":0.132},{"x":-0.7,"y":0.276},{"x":-0.5,"y":0.077},{"x":0.35,"y":0.35},{"x":0.45,"y":0.34},{"x":0.35,"y":0.256},{"x":0.6,"y":0.132},{"x":1.6,"y":0.174},{"x":1.8,"y":0.168},{"x":1.7,"y":0.14},{"x":2.2,"y":0.194},{"x":2.8,"y":0.38},{"x":2.9,"y":0.3},{"x":2.9,"y":0.285},{"x":3.0,"y":0.27},{"x":3.4,"y":0.194},{"x":3.6,"y":0.19},{"x":3.2,"y":0.185},{"x":4.0,"y":0.14},{"x":9.55,"y":0.116},{"x":-0.7,"y":0.081},{"x":0.55,"y":0.041},{"x":-3.5,"y":0.008},{"x":-0.8,"y":0.045},{"x":1.3,"y":0.05},{"x":1.6,"y":0.03},{"x":2.5,"y":0.16},{"x":3.3,"y":0.175}
    ],
    "solid": [
      {"x":-18,"x2":-16,"y":0.024},{"x":-16,"x2":-14,"y":0.05},{"x":-14,"x2":-12,"y":0.065},{"x":-12,"x2":-10,"y":0.062},{"x":-10,"x2":-8,"y":0.068},{"x":-8,"x2":-6,"y":0.105},{"x":-6,"x2":-4,"y":0.127},{"x":-4,"x2":-2,"y":0.115},{"x":-2,"x2":0,"y":0.17},{"x":0,"x2":2,"y":0.183},{"x":2,"x2":4,"y":0.23},{"x":4,"x2":6,"y":0.061},{"x":8,"x2":10,"y":0.008}
    ],
    "dashed": [
      {"x":-18,"x2":-16,"y":-0.022},{"x":-16,"x2":-14,"y":0.006},{"x":-14,"x2":-12,"y":-0.067},{"x":-12,"x2":-10,"y":-0.077},{"x":-10,"x2":-8,"y":0.006},{"x":-8,"x2":-6,"y":-0.018},{"x":-6,"x2":-4,"y":0.078},{"x":-4,"x2":-2,"y":0.083},{"x":-2,"x2":0,"y":0.032},{"x":0,"x2":2,"y":0.036},{"x":2,"x2":4,"y":0.082},{"x":4,"x2":6,"y":0.044},{"x":6,"x2":8,"y":0.003},{"x":8,"x2":10,"y":-0.005}
    ]
  },
  "layer": [
    {
      "data": {"name": "ast"},
      "mark": {"type": "point", "shape": "M-1,0L1,0M0,-1L0,1", "filled": false, "color": "#9a9a9a", "strokeWidth": 1.5, "size": 42, "opacity": 1, "clip": true},
      "encoding": {
        "x": {"field": "x", "type": "quantitative", "scale": {"domain": [-20, 10], "nice": false, "zero": false},
          "axis": {"orient": "bottom", "values": [-20, -10, 0, 10], "tickSize": -8, "labelPadding": 20, "labelExpr": "replace(datum.label, '−', '-')", "title": "X", "titleX": 278, "titleY": 51, "titleFontSize": 20}},
        "y": {"field": "y", "type": "quantitative", "scale": {"domain": [-0.4, 0.4], "nice": false, "zero": false},
          "axis": {"orient": "left", "values": [-0.4, -0.2, 0, 0.2, 0.4], "format": ".1f", "tickSize": -8, "labelPadding": 14, "labelExpr": "replace(datum.label, '−', '-')", "title": "(R", "titleAngle": 270, "titleX": -57, "titleY": 285, "titleFontSize": 21}}
      }
    },
    {
      "data": {"name": "ast"},
      "mark": {"type": "point", "shape": "M-0.7,-0.7L0.7,0.7M-0.7,0.7L0.7,-0.7", "filled": false, "color": "#9a9a9a", "strokeWidth": 1.5, "size": 42, "opacity": 1, "clip": true},
      "encoding": {
        "x": {"field": "x", "type": "quantitative",
          "axis": {"orient": "bottom", "values": [-19,-18,-17,-16,-15,-14,-13,-12,-11,-9,-8,-7,-6,-5,-4,-3,-2,-1,1,2,3,4,5,6,7,8,9], "tickSize": -4, "labels": false, "title": "GSE", "titleX": 293.5, "titleY": 56, "titleFontSize": 13}},
        "y": {"field": "y", "type": "quantitative",
          "axis": {"orient": "left", "values": [-0.35,-0.3,-0.25,-0.15,-0.1,-0.05,0.05,0.1,0.15,0.25,0.3,0.35], "tickSize": -4, "labels": false, "title": "mod", "titleAngle": 270, "titleX": -53, "titleY": 262.5, "titleFontSize": 14}}
      }
    },
    {
      "data": {"name": "dia"},
      "mark": {"type": "point", "shape": "diamond", "filled": false, "color": "#1e1e1e", "strokeWidth": 0.9, "size": 36, "opacity": 1, "clip": true},
      "encoding": {
        "x": {"field": "x", "type": "quantitative",
          "axis": {"orient": "top", "values": [-20, -10, 0, 10], "tickSize": -8, "labels": false, "title": "[R", "titleX": 324, "titleY": 459, "titleFontSize": 20}},
        "y": {"field": "y", "type": "quantitative",
          "axis": {"orient": "right", "values": [-0.4, -0.2, 0, 0.2, 0.4], "tickSize": -8, "labels": false, "title": "-R", "titleAngle": 270, "titleX": -598, "titleY": 235.3, "titleFontSize": 21}}
      }
    },
    {
      "data": {"name": "solid"},
      "mark": {"type": "rule", "color": "black", "strokeWidth": 2},
      "encoding": {
        "x": {"field": "x", "type": "quantitative",
          "axis": {"orient": "top", "values": [-19,-18,-17,-16,-15,-14,-13,-12,-11,-9,-8,-7,-6,-5,-4,-3,-2,-1,1,2,3,4,5,6,7,8,9], "tickSize": -4, "labels": false, "title": "E", "titleX": 346, "titleY": 464, "titleFontSize": 13}},
        "x2": {"field": "x2"},
        "y": {"field": "y", "type": "quantitative",
          "axis": {"orient": "right", "values": [-0.35,-0.3,-0.25,-0.15,-0.1,-0.05,0.05,0.1,0.15,0.25,0.3,0.35], "tickSize": -4, "labels": false, "title": "obs", "titleAngle": 270, "titleX": -594, "titleY": 213, "titleFontSize": 14}},
        "strokeDash": {"datum": "Solid : arctg(z/y)>30°", "type": "nominal",
          "scale": {"domain": ["Solid : arctg(z/y)>30°", "Dashed : arctg(z/y)<30°"], "range": [[1, 0], [9, 9]]},
          "legend": {"orient": "none", "legendX": 23, "legendY": 464, "direction": "horizontal", "title": null, "symbolOpacity": 0, "symbolSize": 0, "symbolStrokeWidth": 0, "labelOffset": 0, "labelFontSize": 21, "columnPadding": 16, "labelLimit": 400, "padding": 0}}
      }
    },
    {
      "data": {"name": "dashed"},
      "mark": {"type": "rule", "color": "black", "strokeWidth": 2},
      "encoding": {
        "x": {"field": "x", "type": "quantitative",
          "axis": {"orient": "bottom", "ticks": false, "labels": false, "title": "]", "titleX": 356.5, "titleY": 51, "titleFontSize": 20}},
        "x2": {"field": "x2"},
        "y": {"field": "y", "type": "quantitative",
          "axis": {"orient": "left", "ticks": false, "labels": false, "title": ")/R", "titleAngle": 270, "titleX": -57, "titleY": 190.5, "titleFontSize": 21}},
        "strokeDash": {"datum": "Dashed : arctg(z/y)<30°", "type": "nominal"}
      }
    },
    {
      "data": {"values": []},
      "mark": {"type": "point"},
      "encoding": {
        "x": {"field": "x", "type": "quantitative",
          "axis": {"orient": "top", "ticks": false, "labels": false, "title": "GSM", "titleX": 405, "titleY": -6, "titleFontSize": 15}},
        "y": {"field": "y", "type": "quantitative",
          "axis": {"orient": "left", "ticks": false, "labels": false, "title": "obs", "titleAngle": 270, "titleX": -53, "titleY": 162.5, "titleFontSize": 14}}
      }
    }
  ],
  "resolve": {"axis": {"x": "independent", "y": "independent"}}
}
